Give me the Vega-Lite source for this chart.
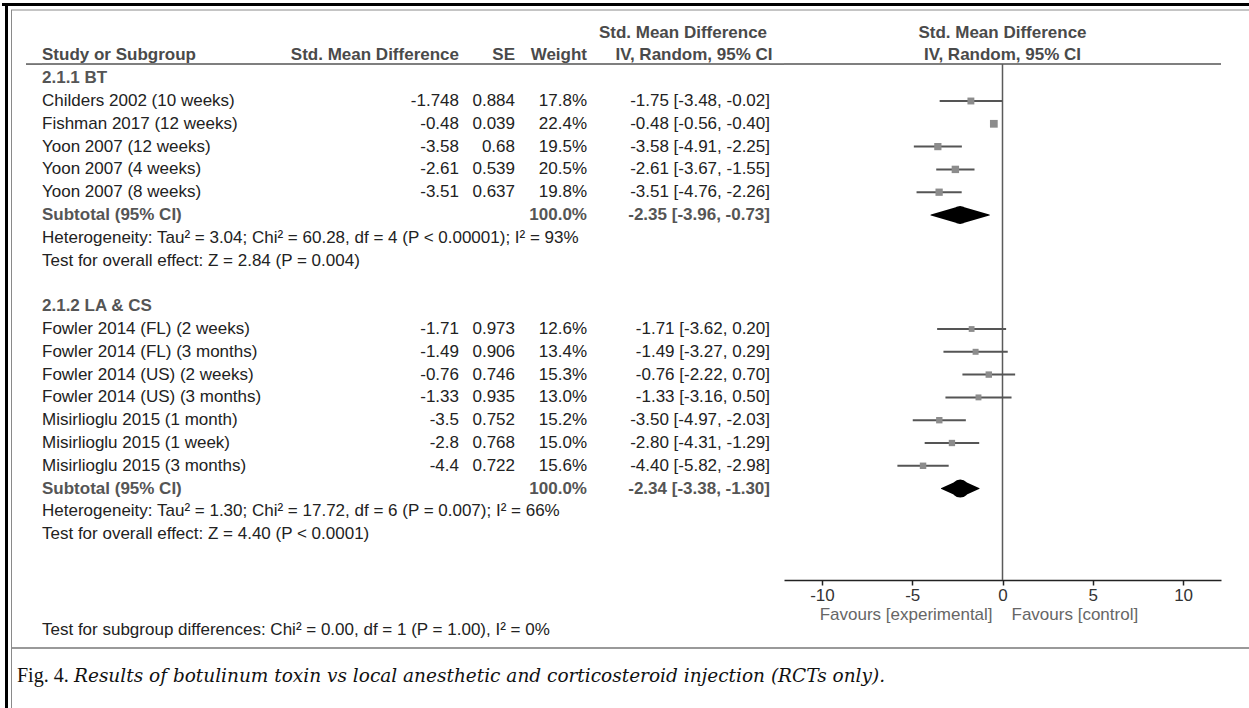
{
  "$schema": "https://vega.github.io/schema/vega-lite/v6.json",
  "background": "white",
  "padding": 0,
  "spacing": 0,
  "bounds": "flush",
  "config": {
    "view": {"stroke": null},
    "text": {"font": "Liberation Sans", "fontSize": 17}
  },
  "datasets": {
    "studies": [
      {"row": 3, "study": "Childers 2002 (10 weeks)", "smd": -1.748, "se": 0.884, "weight": 0.178, "est": -1.75, "lo": -3.48, "hi": -0.02, "ci": "-1.75 [-3.48, -0.02]"},
      {"row": 4, "study": "Fishman 2017 (12 weeks)", "smd": -0.48, "se": 0.039, "weight": 0.224, "est": -0.48, "lo": -0.56, "hi": -0.40, "ci": "-0.48 [-0.56, -0.40]"},
      {"row": 5, "study": "Yoon 2007 (12 weeks)", "smd": -3.58, "se": 0.68, "weight": 0.195, "est": -3.58, "lo": -4.91, "hi": -2.25, "ci": "-3.58 [-4.91, -2.25]"},
      {"row": 6, "study": "Yoon 2007 (4 weeks)", "smd": -2.61, "se": 0.539, "weight": 0.205, "est": -2.61, "lo": -3.67, "hi": -1.55, "ci": "-2.61 [-3.67, -1.55]"},
      {"row": 7, "study": "Yoon 2007 (8 weeks)", "smd": -3.51, "se": 0.637, "weight": 0.198, "est": -3.51, "lo": -4.76, "hi": -2.26, "ci": "-3.51 [-4.76, -2.26]"},
      {"row": 13, "study": "Fowler 2014 (FL) (2 weeks)", "smd": -1.71, "se": 0.973, "weight": 0.126, "est": -1.71, "lo": -3.62, "hi": 0.20, "ci": "-1.71 [-3.62, 0.20]"},
      {"row": 14, "study": "Fowler 2014 (FL) (3 months)", "smd": -1.49, "se": 0.906, "weight": 0.134, "est": -1.49, "lo": -3.27, "hi": 0.29, "ci": "-1.49 [-3.27, 0.29]"},
      {"row": 15, "study": "Fowler 2014 (US) (2 weeks)", "smd": -0.76, "se": 0.746, "weight": 0.153, "est": -0.76, "lo": -2.22, "hi": 0.70, "ci": "-0.76 [-2.22, 0.70]"},
      {"row": 16, "study": "Fowler 2014 (US) (3 months)", "smd": -1.33, "se": 0.935, "weight": 0.130, "est": -1.33, "lo": -3.16, "hi": 0.50, "ci": "-1.33 [-3.16, 0.50]"},
      {"row": 17, "study": "Misirlioglu 2015 (1 month)", "smd": -3.5, "se": 0.752, "weight": 0.152, "est": -3.50, "lo": -4.97, "hi": -2.03, "ci": "-3.50 [-4.97, -2.03]"},
      {"row": 18, "study": "Misirlioglu 2015 (1 week)", "smd": -2.8, "se": 0.768, "weight": 0.150, "est": -2.80, "lo": -4.31, "hi": -1.29, "ci": "-2.80 [-4.31, -1.29]"},
      {"row": 19, "study": "Misirlioglu 2015 (3 months)", "smd": -4.4, "se": 0.722, "weight": 0.156, "est": -4.40, "lo": -5.82, "hi": -2.98, "ci": "-4.40 [-5.82, -2.98]"}
    ],
    "subtotals": [
      {"row": 8, "label": "Subtotal (95% CI)", "weight": 1, "est": -2.35, "lo": -3.96, "hi": -0.73, "ci": "-2.35 [-3.96, -0.73]"},
      {"row": 20, "label": "Subtotal (95% CI)", "weight": 1, "est": -2.34, "lo": -3.38, "hi": -1.30, "ci": "-2.34 [-3.38, -1.30]"}
    ],
    "notes": [
      {"row": 2, "text": "2.1.1 BT", "kind": "group"},
      {"row": 9, "text": "Heterogeneity: Tau² = 3.04; Chi² = 60.28, df = 4 (P < 0.00001); I² = 93%", "kind": "note"},
      {"row": 10, "text": "Test for overall effect: Z = 2.84 (P = 0.004)", "kind": "note"},
      {"row": 12, "text": "2.1.2 LA & CS", "kind": "group"},
      {"row": 21, "text": "Heterogeneity: Tau² = 1.30; Chi² = 17.72, df = 6 (P = 0.007); I² = 66%", "kind": "note"},
      {"row": 22, "text": "Test for overall effect: Z = 4.40 (P < 0.0001)", "kind": "note"},
      {"row": 26.2, "text": "Test for subgroup differences: Chi² = 0.00, df = 1 (P = 1.00), I² = 0%", "kind": "note"}
    ]
  },
  "hconcat": [
    {
      "width": 40, "height": 708,
      "data": {"values": [{}]},
      "layer": [
        {"mark": {"type": "rule", "color": "#000000", "strokeWidth": 3}, "encoding": {"y": {"datum": -1.2325, "type": "quantitative", "scale": {"domain": [-1.4298, 29.6228], "reverse": true, "nice": false, "zero": false}, "axis": null}}},
        {"mark": {"type": "rule", "color": "#8a8a8a", "strokeWidth": 1}, "encoding": {"y": {"datum": -0.9912, "type": "quantitative"}, "x": {"value": 9}, "x2": {"value": "width"}}},
        {"mark": {"type": "rule", "color": "#777777", "strokeWidth": 1.5}, "encoding": {"y": {"datum": 26.9912, "type": "quantitative"}, "x": {"value": 9}, "x2": {"value": "width"}}},
        {"mark": {"type": "rule", "color": "#000000", "strokeWidth": 3}, "encoding": {"x": {"value": 4.5}, "y": {"datum": -1.298, "type": "quantitative"}, "y2": {"value": "height"}}},
        {"mark": {"type": "rule", "color": "#8a8a8a", "strokeWidth": 1}, "encoding": {"x": {"value": 9.5}, "y": {"datum": -0.9912, "type": "quantitative"}, "y2": {"value": "height"}}},
        {"mark": {"type": "rule", "color": "#555555", "strokeWidth": 1.5}, "encoding": {"x": {"value": 24}, "x2": {"value": "width"}, "y": {"datum": 1.38, "type": "quantitative"}}},
        {"mark": {"type": "text", "align": "left", "baseline": "middle", "font": "Liberation Serif", "fontSize": 20, "color": "#111111"}, "encoding": {"x": {"value": 15}, "y": {"datum": 28.22, "type": "quantitative"}, "text": {"value": "Fig. 4."}}},
        {"mark": {"type": "text", "align": "left", "baseline": "middle", "font": "DejaVu Serif", "fontSize": 18.5, "fontStyle": "italic", "color": "#111111"}, "encoding": {"x": {"value": 72}, "y": {"datum": 28.22, "type": "quantitative"}, "text": {"value": "Results of botulinum toxin vs local anesthetic and corticosteroid injection (RCTs only)."}}}
      ]
    },
    {
      "width": 260, "height": 708,
      "layer": [
        {"data": {"values": [{}]}, "mark": {"type": "rule", "color": "#000000", "strokeWidth": 3}, "encoding": {"y": {"datum": -1.2325, "type": "quantitative", "scale": {"domain": [-1.4298, 29.6228], "reverse": true, "nice": false, "zero": false}, "axis": null}}},
        {"data": {"values": [{}]}, "mark": {"type": "rule", "color": "#8a8a8a", "strokeWidth": 1}, "encoding": {"y": {"datum": -0.9912, "type": "quantitative"}}},
        {"data": {"values": [{}]}, "mark": {"type": "rule", "color": "#777777", "strokeWidth": 1.5}, "encoding": {"y": {"datum": 26.9912, "type": "quantitative"}}},
        {"data": {"values": [{}]}, "mark": {"type": "rule", "color": "#555555", "strokeWidth": 1.5}, "encoding": {"y": {"datum": 1.38, "type": "quantitative"}}},
        {"data": {"values": [{}]}, "mark": {"type": "text", "align": "left", "baseline": "middle", "fontWeight": "bold", "color": "#4a4a4a"}, "encoding": {"x": {"value": 0}, "y": {"datum": 1, "type": "quantitative"}, "text": {"value": "Study or Subgroup"}}},
        {"data": {"name": "notes"}, "transform": [{"filter": "datum.kind == 'group'"}], "mark": {"type": "text", "align": "left", "baseline": "middle", "fontWeight": "bold", "color": "#555555"}, "encoding": {"x": {"value": 0}, "y": {"field": "row", "type": "quantitative"}, "text": {"field": "text"}}},
        {"data": {"name": "notes"}, "transform": [{"filter": "datum.kind == 'note'"}], "mark": {"type": "text", "align": "left", "baseline": "middle", "color": "#222222"}, "encoding": {"x": {"value": 0}, "y": {"field": "row", "type": "quantitative"}, "text": {"field": "text"}}},
        {"data": {"name": "studies"}, "mark": {"type": "text", "align": "left", "baseline": "middle", "color": "#222222"}, "encoding": {"x": {"value": 0}, "y": {"field": "row", "type": "quantitative"}, "text": {"field": "study"}}},
        {"data": {"name": "subtotals"}, "mark": {"type": "text", "align": "left", "baseline": "middle", "fontWeight": "bold", "color": "#555555"}, "encoding": {"x": {"value": 0}, "y": {"field": "row", "type": "quantitative"}, "text": {"field": "label"}}}
      ]
    },
    {
      "width": 157, "height": 708,
      "layer": [
        {"data": {"values": [{}]}, "mark": {"type": "rule", "color": "#000000", "strokeWidth": 3}, "encoding": {"y": {"datum": -1.2325, "type": "quantitative", "scale": {"domain": [-1.4298, 29.6228], "reverse": true, "nice": false, "zero": false}, "axis": null}}},
        {"data": {"values": [{}]}, "mark": {"type": "rule", "color": "#8a8a8a", "strokeWidth": 1}, "encoding": {"y": {"datum": -0.9912, "type": "quantitative"}}},
        {"data": {"values": [{}]}, "mark": {"type": "rule", "color": "#777777", "strokeWidth": 1.5}, "encoding": {"y": {"datum": 26.9912, "type": "quantitative"}}},
        {"data": {"values": [{}]}, "mark": {"type": "rule", "color": "#555555", "strokeWidth": 1.5}, "encoding": {"y": {"datum": 1.38, "type": "quantitative"}}},
        {"data": {"values": [{}]}, "mark": {"type": "text", "align": "right", "baseline": "middle", "fontWeight": "bold", "color": "#4a4a4a"}, "encoding": {"x": {"value": "width"}, "y": {"datum": 1, "type": "quantitative"}, "text": {"value": "Std. Mean Difference"}}},
        {"data": {"name": "studies"}, "mark": {"type": "text", "align": "right", "baseline": "middle", "color": "#222222"}, "encoding": {"x": {"value": "width"}, "y": {"field": "row", "type": "quantitative"}, "text": {"field": "smd", "type": "nominal"}}}
      ]
    },
    {
      "width": 56, "height": 708,
      "layer": [
        {"data": {"values": [{}]}, "mark": {"type": "rule", "color": "#000000", "strokeWidth": 3}, "encoding": {"y": {"datum": -1.2325, "type": "quantitative", "scale": {"domain": [-1.4298, 29.6228], "reverse": true, "nice": false, "zero": false}, "axis": null}}},
        {"data": {"values": [{}]}, "mark": {"type": "rule", "color": "#8a8a8a", "strokeWidth": 1}, "encoding": {"y": {"datum": -0.9912, "type": "quantitative"}}},
        {"data": {"values": [{}]}, "mark": {"type": "rule", "color": "#777777", "strokeWidth": 1.5}, "encoding": {"y": {"datum": 26.9912, "type": "quantitative"}}},
        {"data": {"values": [{}]}, "mark": {"type": "rule", "color": "#555555", "strokeWidth": 1.5}, "encoding": {"y": {"datum": 1.38, "type": "quantitative"}}},
        {"data": {"values": [{}]}, "mark": {"type": "text", "align": "right", "baseline": "middle", "fontWeight": "bold", "color": "#4a4a4a"}, "encoding": {"x": {"value": "width"}, "y": {"datum": 1, "type": "quantitative"}, "text": {"value": "SE"}}},
        {"data": {"name": "studies"}, "mark": {"type": "text", "align": "right", "baseline": "middle", "color": "#222222"}, "encoding": {"x": {"value": "width"}, "y": {"field": "row", "type": "quantitative"}, "text": {"field": "se", "type": "nominal"}}}
      ]
    },
    {
      "width": 72, "height": 708,
      "layer": [
        {"data": {"values": [{}]}, "mark": {"type": "rule", "color": "#000000", "strokeWidth": 3}, "encoding": {"y": {"datum": -1.2325, "type": "quantitative", "scale": {"domain": [-1.4298, 29.6228], "reverse": true, "nice": false, "zero": false}, "axis": null}}},
        {"data": {"values": [{}]}, "mark": {"type": "rule", "color": "#8a8a8a", "strokeWidth": 1}, "encoding": {"y": {"datum": -0.9912, "type": "quantitative"}}},
        {"data": {"values": [{}]}, "mark": {"type": "rule", "color": "#777777", "strokeWidth": 1.5}, "encoding": {"y": {"datum": 26.9912, "type": "quantitative"}}},
        {"data": {"values": [{}]}, "mark": {"type": "rule", "color": "#555555", "strokeWidth": 1.5}, "encoding": {"y": {"datum": 1.38, "type": "quantitative"}}},
        {"data": {"values": [{}]}, "mark": {"type": "text", "align": "right", "baseline": "middle", "fontWeight": "bold", "color": "#4a4a4a"}, "encoding": {"x": {"value": "width"}, "y": {"datum": 1, "type": "quantitative"}, "text": {"value": "Weight"}}},
        {"data": {"name": "studies"}, "mark": {"type": "text", "align": "right", "baseline": "middle", "color": "#222222"}, "encoding": {"x": {"value": "width"}, "y": {"field": "row", "type": "quantitative"}, "text": {"field": "weight", "type": "quantitative", "format": ".1%"}}},
        {"data": {"name": "subtotals"}, "mark": {"type": "text", "align": "right", "baseline": "middle", "fontWeight": "bold", "color": "#555555"}, "encoding": {"x": {"value": "width"}, "y": {"field": "row", "type": "quantitative"}, "text": {"field": "weight", "type": "quantitative", "format": ".1%"}}}
      ]
    },
    {
      "width": 183, "height": 708,
      "layer": [
        {"data": {"values": [{}]}, "mark": {"type": "rule", "color": "#000000", "strokeWidth": 3}, "encoding": {"y": {"datum": -1.2325, "type": "quantitative", "scale": {"domain": [-1.4298, 29.6228], "reverse": true, "nice": false, "zero": false}, "axis": null}}},
        {"data": {"values": [{}]}, "mark": {"type": "rule", "color": "#8a8a8a", "strokeWidth": 1}, "encoding": {"y": {"datum": -0.9912, "type": "quantitative"}}},
        {"data": {"values": [{}]}, "mark": {"type": "rule", "color": "#777777", "strokeWidth": 1.5}, "encoding": {"y": {"datum": 26.9912, "type": "quantitative"}}},
        {"data": {"values": [{}]}, "mark": {"type": "rule", "color": "#555555", "strokeWidth": 1.5}, "encoding": {"y": {"datum": 1.38, "type": "quantitative"}}},
        {"data": {"values": [{}]}, "mark": {"type": "text", "align": "center", "baseline": "middle", "fontWeight": "bold", "color": "#4a4a4a"}, "encoding": {"x": {"value": 96}, "y": {"datum": 0, "type": "quantitative"}, "text": {"value": "Std. Mean Difference"}}},
        {"data": {"values": [{}]}, "mark": {"type": "text", "align": "center", "baseline": "middle", "fontWeight": "bold", "color": "#4a4a4a"}, "encoding": {"x": {"value": 107}, "y": {"datum": 1, "type": "quantitative"}, "text": {"value": "IV, Random, 95% CI"}}},
        {"data": {"name": "studies"}, "mark": {"type": "text", "align": "right", "baseline": "middle", "color": "#222222"}, "encoding": {"x": {"value": "width"}, "y": {"field": "row", "type": "quantitative"}, "text": {"field": "ci"}}},
        {"data": {"name": "subtotals"}, "mark": {"type": "text", "align": "right", "baseline": "middle", "fontWeight": "bold", "color": "#555555"}, "encoding": {"x": {"value": "width"}, "y": {"field": "row", "type": "quantitative"}, "text": {"field": "ci"}}}
      ]
    },
    {
      "width": 14, "height": 708,
      "data": {"values": [{}]},
      "layer": [
        {"mark": {"type": "rule", "color": "#000000", "strokeWidth": 3}, "encoding": {"y": {"datum": -1.2325, "type": "quantitative", "scale": {"domain": [-1.4298, 29.6228], "reverse": true, "nice": false, "zero": false}, "axis": null}}},
        {"mark": {"type": "rule", "color": "#8a8a8a", "strokeWidth": 1}, "encoding": {"y": {"datum": -0.9912, "type": "quantitative"}}},
        {"mark": {"type": "rule", "color": "#777777", "strokeWidth": 1.5}, "encoding": {"y": {"datum": 26.9912, "type": "quantitative"}}},
        {"mark": {"type": "rule", "color": "#555555", "strokeWidth": 1.5}, "encoding": {"y": {"datum": 1.38, "type": "quantitative"}}}
      ]
    },
    {
      "width": 437, "height": 580,
      "resolve": {"scale": {"size": "independent"}},
      "layer": [
        {"data": {"values": [{}]}, "mark": {"type": "rule", "color": "#000000", "strokeWidth": 3}, "encoding": {"y": {"datum": -1.2325, "type": "quantitative", "scale": {"domain": [-1.4298, 24.0088], "reverse": true, "nice": false, "zero": false}, "axis": null}}},
        {"data": {"values": [{}]}, "mark": {"type": "rule", "color": "#8a8a8a", "strokeWidth": 1}, "encoding": {"y": {"datum": -0.9912, "type": "quantitative"}}},
        {"data": {"values": [{}]}, "mark": {"type": "rule", "color": "#777777", "strokeWidth": 1.5}, "encoding": {"y": {"datum": 26.9912, "type": "quantitative"}}},
        {"data": {"values": [{}]}, "mark": {"type": "rule", "color": "#555555", "strokeWidth": 1.5}, "encoding": {"y": {"datum": 1.38, "type": "quantitative"}}},
        {"data": {"values": [{}]}, "mark": {"type": "rule", "color": "#5a5a5a", "strokeWidth": 1.5}, "encoding": {"x": {"datum": 0, "type": "quantitative", "scale": {"domain": [-12.1, 12.1], "nice": false, "zero": false}, "axis": {"values": [-10, -5, 0, 5, 10], "labelExpr": "'' + datum.value", "title": null, "grid": false, "domainColor": "#222222", "domainWidth": 1.5, "tickColor": "#222222", "tickWidth": 1.5, "tickSize": 5, "labelFontSize": 17, "labelColor": "#333333", "labelFont": "Liberation Sans", "labelPadding": 2}}, "y": {"datum": 1.38, "type": "quantitative"}, "y2": {"datum": 24.0088}}},
        {"data": {"values": [{}]}, "mark": {"type": "text", "align": "center", "baseline": "middle", "fontWeight": "bold", "color": "#4a4a4a"}, "encoding": {"x": {"datum": 0, "type": "quantitative"}, "y": {"datum": 0, "type": "quantitative"}, "text": {"value": "Std. Mean Difference"}}},
        {"data": {"values": [{}]}, "mark": {"type": "text", "align": "center", "baseline": "middle", "fontWeight": "bold", "color": "#4a4a4a"}, "encoding": {"x": {"datum": 0, "type": "quantitative"}, "y": {"datum": 1, "type": "quantitative"}, "text": {"value": "IV, Random, 95% CI"}}},
        {"data": {"name": "studies"}, "mark": {"type": "rule", "color": "#555555", "strokeWidth": 2}, "encoding": {"x": {"field": "lo", "type": "quantitative"}, "x2": {"field": "hi"}, "y": {"field": "row", "type": "quantitative"}}},
        {"data": {"name": "studies"}, "mark": {"type": "point", "shape": "square", "filled": true, "opacity": 1, "color": "#8c8c8c"}, "encoding": {"x": {"field": "est", "type": "quantitative"}, "y": {"field": "row", "type": "quantitative"}, "size": {"field": "weight", "type": "quantitative", "scale": {"domain": [0, 0.224], "range": [0, 60]}, "legend": null}}},
        {"data": {"name": "subtotals"}, "transform": [{"fold": ["lo", "est", "hi"], "as": ["key", "val"]}], "mark": {"type": "trail", "color": "#000000"}, "encoding": {"x": {"field": "val", "type": "quantitative"}, "y": {"field": "row", "type": "quantitative"}, "size": {"field": "key", "type": "ordinal", "scale": {"type": "ordinal", "domain": ["lo", "est", "hi"], "range": [0, 18, 0]}, "legend": null}, "detail": {"field": "row", "type": "nominal"}, "order": {"field": "val", "type": "quantitative"}}},
        {"data": {"values": [{}]}, "mark": {"type": "text", "align": "right", "baseline": "middle", "color": "#666666"}, "encoding": {"x": {"datum": -0.55, "type": "quantitative"}, "y": {"datum": 25.55, "type": "quantitative"}, "text": {"value": "Favours [experimental]"}}},
        {"data": {"values": [{}]}, "mark": {"type": "text", "align": "left", "baseline": "middle", "color": "#666666"}, "encoding": {"x": {"datum": 0.5, "type": "quantitative"}, "y": {"datum": 25.55, "type": "quantitative"}, "text": {"value": "Favours [control]"}}}
      ]
    },
    {
      "width": 30, "height": 708,
      "data": {"values": [{}]},
      "layer": [
        {"mark": {"type": "rule", "color": "#000000", "strokeWidth": 3}, "encoding": {"y": {"datum": -1.2325, "type": "quantitative", "scale": {"domain": [-1.4298, 29.6228], "reverse": true, "nice": false, "zero": false}, "axis": null}}},
        {"mark": {"type": "rule", "color": "#8a8a8a", "strokeWidth": 1}, "encoding": {"y": {"datum": -0.9912, "type": "quantitative"}, "x": {"value": 0}, "x2": {"value": 28.5}}},
        {"mark": {"type": "rule", "color": "#777777", "strokeWidth": 1.5}, "encoding": {"y": {"datum": 26.9912, "type": "quantitative"}, "x": {"value": 0}, "x2": {"value": 28.5}}},
        {"mark": {"type": "rule", "color": "#8a8a8a", "strokeWidth": 1}, "encoding": {"x": {"value": 28.5}, "y": {"datum": -0.9912, "type": "quantitative"}, "y2": {"value": "height"}}}
      ]
    }
  ]
}
